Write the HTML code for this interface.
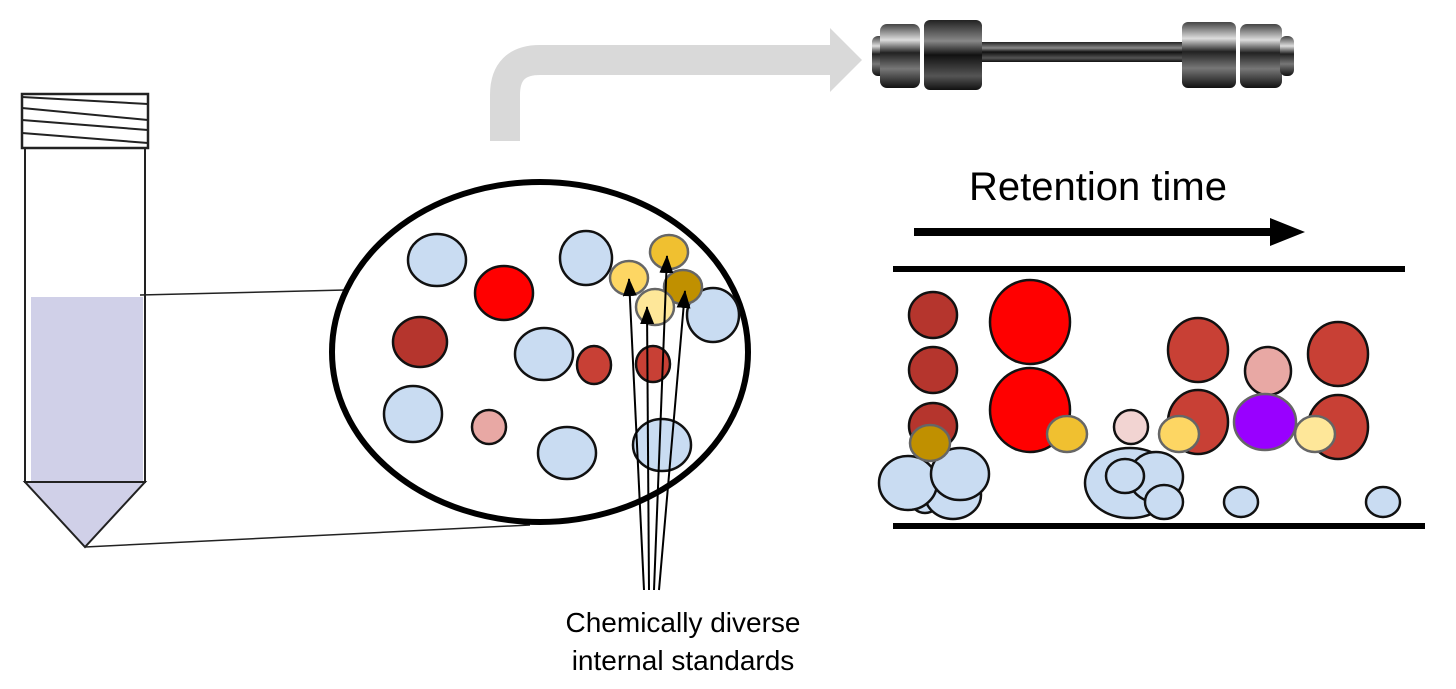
<!DOCTYPE html>
<html><head><meta charset="utf-8"><style>
html,body{margin:0;padding:0;background:#fff;}
svg{display:block;}
text{font-family:"Liberation Sans",Arial,sans-serif;}
</style></head><body>
<svg width="1456" height="689" viewBox="0 0 1456 689" xmlns="http://www.w3.org/2000/svg">
<defs>
<linearGradient id="metal" x1="0" y1="0" x2="0" y2="1">
<stop offset="0" stop-color="#444"/><stop offset="0.25" stop-color="#ddd"/><stop offset="0.45" stop-color="#222"/><stop offset="0.7" stop-color="#777"/><stop offset="1" stop-color="#111"/>
</linearGradient>
<linearGradient id="metal2" x1="0" y1="0" x2="0" y2="1">
<stop offset="0" stop-color="#222"/><stop offset="0.3" stop-color="#888"/><stop offset="0.5" stop-color="#111"/><stop offset="0.8" stop-color="#555"/><stop offset="1" stop-color="#111"/>
</linearGradient>
<marker id="ah" markerWidth="18" markerHeight="14" refX="17" refY="7" orient="auto" markerUnits="userSpaceOnUse"><path d="M0,0 L18,7 L0,14 z" fill="#000"/></marker>
</defs>

<!-- gray arrow -->
<path d="M505,141 L505,95 Q505,60 540,60 L832,60" fill="none" stroke="#d9d9d9" stroke-width="30"/>
<polygon points="830,28 862,60 830,92" fill="#d9d9d9"/>

<!-- column -->
<g>
<rect x="872" y="36" width="16" height="40" rx="6" fill="url(#metal)"/>
<rect x="880" y="24" width="40" height="64" rx="7" fill="url(#metal)"/>
<rect x="924" y="20" width="58" height="70" rx="6" fill="url(#metal2)"/>
<rect x="982" y="42" width="200" height="20" fill="url(#metal2)"/>
<rect x="1182" y="22" width="54" height="66" rx="6" fill="url(#metal)"/>
<rect x="1240" y="24" width="42" height="64" rx="7" fill="url(#metal)"/>
<rect x="1280" y="36" width="14" height="40" rx="6" fill="url(#metal)"/>
</g>

<!-- tube -->
<rect x="31" y="297" width="112" height="185" fill="#d0d0e8"/>
<polygon points="25,482 145,482 85,547" fill="#d0d0e8" stroke="#222" stroke-width="2"/>
<rect x="25" y="148" width="120" height="334" fill="none" stroke="#222" stroke-width="2"/>
<rect x="22" y="94" width="126" height="54" fill="#fff" stroke="#222" stroke-width="2.5"/>
<g stroke="#222" stroke-width="2">
<line x1="22" y1="97" x2="148" y2="104"/>
<line x1="22" y1="108" x2="148" y2="120"/>
<line x1="22" y1="120" x2="148" y2="130"/>
<line x1="22" y1="133" x2="148" y2="143"/>
</g>
<line x1="140" y1="295" x2="345" y2="290" stroke="#222" stroke-width="1.5"/>
<line x1="85" y1="547" x2="530" y2="525" stroke="#222" stroke-width="1.5"/>

<!-- ellipse -->
<ellipse cx="540" cy="352" rx="208" ry="170" fill="#fff" stroke="#000" stroke-width="6"/>
<g stroke="#111" stroke-width="2.5">
<ellipse cx="437" cy="260" rx="29" ry="26" fill="#c9dcf2"/>
<ellipse cx="504" cy="293" rx="29" ry="27" fill="#ff0000"/>
<ellipse cx="586" cy="258" rx="26" ry="27" fill="#c9dcf2"/>
<ellipse cx="713" cy="315" rx="26" ry="27" fill="#c9dcf2"/>
<ellipse cx="420" cy="342" rx="27" ry="25" fill="#b5352d"/>
<ellipse cx="544" cy="354" rx="29" ry="26" fill="#c9dcf2"/>
<ellipse cx="594" cy="365" rx="17" ry="19" fill="#c84035"/>
<ellipse cx="653" cy="364" rx="17" ry="18" fill="#c84035"/>
<ellipse cx="413" cy="414" rx="29" ry="28" fill="#c9dcf2"/>
<ellipse cx="489" cy="427" rx="17" ry="17" fill="#e8a8a4"/>
<ellipse cx="567" cy="453" rx="29" ry="26" fill="#c9dcf2"/>
<ellipse cx="662" cy="445" rx="29" ry="26" fill="#c9dcf2"/>
</g>
<g stroke="#666" stroke-width="2.5">
<ellipse cx="629" cy="278" rx="19" ry="17" fill="#fdd663"/>
<ellipse cx="669" cy="252" rx="19" ry="17" fill="#f0c030"/>
<ellipse cx="683" cy="287" rx="19" ry="17" fill="#c09000"/>
<ellipse cx="655" cy="307" rx="19" ry="18" fill="#fee799"/>
</g>
<g stroke="#000" stroke-width="2" marker-end="url(#ah)">
<line x1="644" y1="590" x2="629" y2="279"/>
<line x1="649" y1="590" x2="647" y2="307"/>
<line x1="654" y1="590" x2="667" y2="256"/>
<line x1="659" y1="590" x2="685" y2="291"/>
</g>
<text x="683" y="632" font-size="28" text-anchor="middle">Chemically diverse</text>
<text x="683" y="670" font-size="28" text-anchor="middle">internal standards</text>

<!-- retention time -->
<text x="1098" y="200" font-size="40" text-anchor="middle">Retention time</text>
<line x1="914" y1="232" x2="1272" y2="232" stroke="#000" stroke-width="8"/>
<polygon points="1270,218 1305,232 1270,246" fill="#000"/>
<line x1="893" y1="269" x2="1405" y2="269" stroke="#000" stroke-width="6"/>
<line x1="893" y1="526" x2="1425" y2="526" stroke="#000" stroke-width="6"/>

<g stroke="#111" stroke-width="2.5">
<ellipse cx="933" cy="315" rx="24" ry="23" fill="#b5352d"/>
<ellipse cx="933" cy="370" rx="24" ry="23" fill="#b5352d"/>
<ellipse cx="933" cy="426" rx="24" ry="23" fill="#b5352d"/>
<ellipse cx="1030" cy="322" rx="40" ry="42" fill="#ff0000"/>
<ellipse cx="1030" cy="410" rx="40" ry="42" fill="#ff0000"/>
<ellipse cx="1198" cy="350" rx="30" ry="32" fill="#c84035"/>
<ellipse cx="1198" cy="422" rx="30" ry="32" fill="#c84035"/>
<ellipse cx="1268" cy="371" rx="23" ry="24" fill="#e8a8a4"/>
<ellipse cx="1338" cy="354" rx="30" ry="32" fill="#c84035"/>
<ellipse cx="1338" cy="427" rx="30" ry="32" fill="#c84035"/>
<ellipse cx="1131" cy="427" rx="17" ry="17" fill="#f2d4d2"/>
<ellipse cx="925" cy="500" rx="14" ry="13" fill="#c9dcf2"/>
<ellipse cx="953" cy="495" rx="28" ry="24" fill="#c9dcf2"/>
<ellipse cx="908" cy="483" rx="29" ry="27" fill="#c9dcf2"/>
<ellipse cx="960" cy="474" rx="29" ry="26" fill="#c9dcf2"/>
<ellipse cx="1130" cy="483" rx="45" ry="35" fill="#c9dcf2"/>
<ellipse cx="1156" cy="477" rx="27" ry="25" fill="#c9dcf2"/>
<ellipse cx="1125" cy="476" rx="19" ry="17" fill="#c9dcf2"/>
<ellipse cx="1164" cy="502" rx="19" ry="17" fill="#c9dcf2"/>
<ellipse cx="1241" cy="502" rx="17" ry="15" fill="#c9dcf2"/>
<ellipse cx="1383" cy="502" rx="17" ry="15" fill="#c9dcf2"/>
</g>
<g stroke="#666" stroke-width="2.5">
<ellipse cx="930" cy="443" rx="20" ry="18" fill="#c09000"/>
<ellipse cx="1067" cy="434" rx="20" ry="18" fill="#f0c030"/>
<ellipse cx="1179" cy="434" rx="20" ry="18" fill="#fdd663"/>
<ellipse cx="1265" cy="422" rx="31" ry="28" fill="#9900ff"/>
<ellipse cx="1315" cy="434" rx="20" ry="18" fill="#fee799"/>
</g>
</svg>
</body></html>
